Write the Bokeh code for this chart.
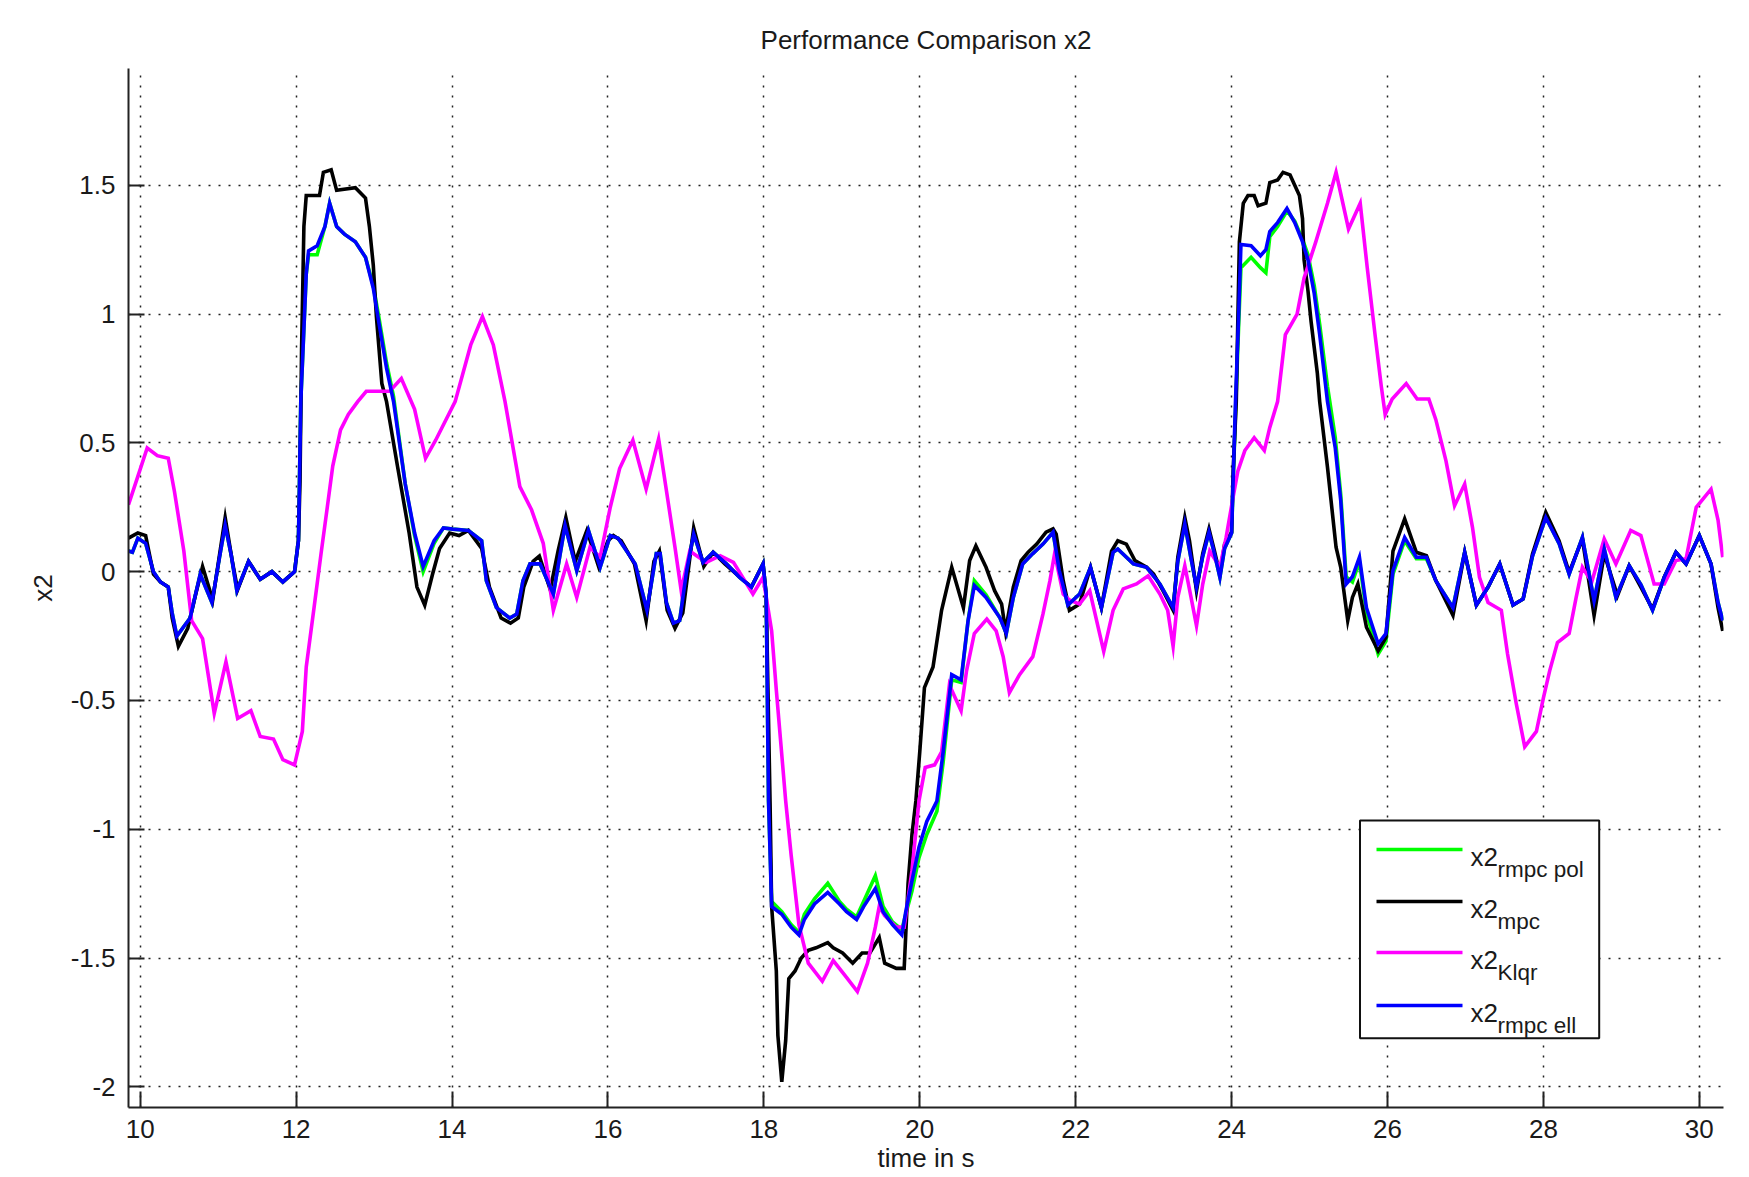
from bokeh.plotting import figure
from bokeh.models import Range1d, FixedTicker
from bokeh.embed import file_html
from bokeh.resources import INLINE
from bokeh.core.properties import value

# ---------------- data ----------------
t_mpc = [9.85, 9.97, 10.07, 10.17, 10.26, 10.36, 10.41, 10.49, 10.61, 10.71, 10.80, 10.93, 11.02, 11.09,
         11.18, 11.25, 11.39, 11.54, 11.69, 11.83, 11.98, 12.03, 12.05, 12.07, 12.10, 12.13, 12.30, 12.35,
         12.45, 12.52, 12.76, 12.89, 12.94, 12.99, 13.03, 13.10, 13.16, 13.30, 13.45, 13.55, 13.65, 13.75,
         13.84, 13.97, 14.09, 14.21, 14.38, 14.48, 14.63, 14.75, 14.85, 14.92, 15.04, 15.12, 15.26, 15.36,
         15.46, 15.58, 15.73, 15.88, 16.00, 16.07, 16.17, 16.34, 16.49, 16.59, 16.66, 16.76, 16.86, 16.96,
         17.10, 17.23, 17.35, 17.50, 17.69, 17.84, 17.99, 18.03, 18.08, 18.10, 18.16, 18.18, 18.23, 18.28,
         18.32, 18.40, 18.48, 18.57, 18.67, 18.82, 18.89, 19.01, 19.14, 19.26, 19.36, 19.48, 19.55, 19.70,
         19.80, 19.82, 19.85, 19.90, 19.95, 20.00, 20.06, 20.17, 20.28, 20.41, 20.56, 20.64, 20.72, 20.85,
         20.96, 21.05, 21.10, 21.20, 21.30, 21.39, 21.50, 21.62, 21.71, 21.75, 21.84, 21.92, 22.05, 22.19,
         22.33, 22.46, 22.54, 22.65, 22.76, 22.91, 23.00, 23.12, 23.25, 23.31, 23.40, 23.46, 23.55, 23.63,
         23.71, 23.78, 23.85, 23.91, 24.00, 24.02, 24.06, 24.07, 24.10, 24.15,
         24.21, 24.29, 24.34, 24.44, 24.49, 24.59, 24.66, 24.75, 24.81, 24.87, 24.91, 24.93, 24.98, 25.02,
         25.06, 25.10, 25.13, 25.23, 25.34, 25.40, 25.49, 25.55, 25.62, 25.73, 25.88, 25.98, 26.07, 26.22,
         26.37, 26.50, 26.62, 26.84, 26.99, 27.14, 27.29, 27.44, 27.61, 27.74, 27.86, 28.03, 28.20, 28.33,
         28.50, 28.65, 28.78, 28.95, 29.10, 29.25, 29.40, 29.55, 29.70, 29.83, 30.00, 30.15, 30.24, 30.30]
x2_mpc = [0.13, 0.15, 0.14, -0.01, -0.04, -0.06, -0.18, -0.29, -0.22, -0.09, 0.02, -0.11, 0.07, 0.21,
          0.043, -0.07, 0.04, -0.03, 0.00, -0.04, 0.00, 0.12, 0.35, 0.86, 1.34, 1.46, 1.46, 1.55,
          1.56, 1.48, 1.49, 1.45, 1.34, 1.19, 0.99, 0.73, 0.66, 0.41, 0.15, -0.06, -0.13, -0.01,
          0.09, 0.15, 0.14, 0.16, 0.09, -0.06, -0.18, -0.20, -0.18, -0.06, 0.04, 0.06, -0.07, 0.08,
          0.21, 0.04, 0.16, 0.02, 0.12, 0.14, 0.12, 0.03, -0.19, 0.04, 0.08, -0.15, -0.22, -0.16,
          0.17, 0.02, 0.075, 0.03, -0.02, -0.06, 0.03, -0.09, -0.90, -1.30, -1.55, -1.80, -1.98, -1.82,
          -1.58, -1.55, -1.50, -1.47, -1.46, -1.44, -1.46, -1.48, -1.52, -1.48, -1.48, -1.42, -1.52, -1.54,
          -1.54, -1.41, -1.21, -1.02, -0.89, -0.70, -0.45, -0.37, -0.15, 0.017, -0.14, 0.043, 0.10, 0.017,
          -0.074, -0.126, -0.23, -0.06, 0.043, 0.075, 0.107, 0.153, 0.166, 0.146, -0.035, -0.15, -0.126, 0.017,
          -0.14, 0.08, 0.12, 0.107, 0.043, 0.017, -0.01, -0.074, -0.15, 0.056, 0.21, 0.12, -0.074, 0.07,
          0.166, 0.08, -0.01, 0.107, 0.153, 0.39, 0.66, 0.82, 1.28, 1.43,
          1.46, 1.46, 1.42, 1.43, 1.51, 1.52, 1.55, 1.54, 1.50, 1.46, 1.37, 1.21, 1.09, 0.97,
          0.87, 0.77, 0.66, 0.405, 0.095, 0.017, -0.19, -0.10, -0.048, -0.216, -0.307, -0.255, 0.08, 0.205,
          0.075, 0.062, -0.035, -0.17, 0.075, -0.13, -0.06, 0.03, -0.13, -0.106, 0.069, 0.23, 0.12, -0.003,
          0.127, -0.17, 0.069, -0.093, 0.023, -0.06, -0.145, -0.022, 0.075, 0.03, 0.14, 0.03, -0.14, -0.23]

t_rmpc = [9.85, 9.90, 9.97, 10.07, 10.17, 10.26, 10.36, 10.41, 10.47, 10.64, 10.77, 10.92, 11.02,
          11.09, 11.17, 11.24, 11.39, 11.54, 11.69, 11.83, 11.98, 12.03, 12.06, 12.13, 12.16, 12.27, 12.37,
          12.43, 12.52, 12.62, 12.76, 12.89, 12.99, 13.06, 13.16, 13.25, 13.40, 13.52, 13.63, 13.77, 13.89,
          14.01, 14.21, 14.38, 14.44, 14.57, 14.74, 14.83, 14.91, 15.00, 15.13, 15.30, 15.45, 15.60, 15.75,
          15.90, 16.03, 16.13, 16.24, 16.35, 16.50, 16.62, 16.67, 16.75, 16.84, 16.92, 17.01, 17.10, 17.22,
          17.35, 17.52, 17.69, 17.84, 17.99, 18.03, 18.06, 18.10, 18.23, 18.35, 18.45, 18.52, 18.65, 18.82,
          18.97, 19.06, 19.19, 19.28, 19.43, 19.53, 19.65, 19.77, 19.82, 19.90, 19.99, 20.09, 20.22, 20.30,
          20.41, 20.53, 20.62, 20.70, 20.85, 21.03, 21.11, 21.20, 21.32, 21.45, 21.58, 21.71, 21.79, 21.90,
          22.05, 22.19, 22.33, 22.48, 22.54, 22.74, 22.91, 23.08, 23.25, 23.31, 23.40, 23.48, 23.55, 23.63,
          23.71, 23.78, 23.85, 23.91, 24.00, 24.05, 24.09, 24.12, 24.25, 24.37, 24.44,
          24.49, 24.59, 24.71, 24.81, 24.91, 24.98, 25.06, 25.13, 25.23, 25.33, 25.40, 25.47, 25.55, 25.64,
          25.73, 25.88, 25.98, 26.07, 26.22, 26.37, 26.50, 26.62, 26.84, 26.99, 27.14, 27.29, 27.44, 27.61,
          27.74, 27.86, 28.03, 28.20, 28.33, 28.50, 28.65, 28.78, 28.93, 29.10, 29.25, 29.40, 29.55, 29.70,
          29.83, 30.00, 30.15, 30.24, 30.30]
x2_rmpc_ell = [0.08, 0.075, 0.13, 0.11, 0.00, -0.04, -0.06, -0.16, -0.25, -0.18, -0.01, -0.12, 0.06,
               0.18, 0.06, -0.074, 0.04, -0.03, 0.00, -0.04, 0.00, 0.12, 0.66, 1.155, 1.245, 1.265, 1.34,
               1.43, 1.34, 1.31, 1.28, 1.22, 1.10, 0.97, 0.79, 0.66, 0.34, 0.15, 0.02, 0.12, 0.17,
               0.165, 0.16, 0.12, -0.035, -0.14, -0.18, -0.165, -0.035, 0.03, 0.03, -0.087, 0.18, 0.004, 0.16,
               0.017, 0.14, 0.13, 0.08, 0.03, -0.15, 0.07, 0.07, -0.12, -0.20, -0.19, 0.004, 0.146, 0.036,
               0.075, 0.03, -0.022, -0.06, 0.03, -0.09, -0.89, -1.30, -1.33, -1.38, -1.41, -1.35, -1.29, -1.245,
               -1.29, -1.32, -1.35, -1.30, -1.23, -1.32, -1.37, -1.41, -1.32, -1.20, -1.07, -0.97, -0.89, -0.70,
               -0.40, -0.42, -0.19, -0.054, -0.10, -0.18, -0.24, -0.10, 0.03, 0.07, 0.107, 0.153, 0.004, -0.13,
               -0.087, 0.017, -0.14, 0.075, 0.088, 0.03, 0.017, -0.048, -0.14, 0.04, 0.185, 0.05, -0.06, 0.06,
               0.153, 0.07, -0.022, 0.09, 0.15, 0.66, 0.99, 1.27, 1.265, 1.226, 1.25,
               1.32, 1.355, 1.41, 1.355, 1.28, 1.21, 1.08, 0.92, 0.66, 0.48, 0.276, -0.048, -0.02, 0.056,
               -0.14, -0.28, -0.24, 0.004, 0.133, 0.056, 0.056, -0.035, -0.14, 0.075, -0.13, -0.06, 0.03, -0.13,
               -0.106, 0.06, 0.21, 0.11, -0.01, 0.133, -0.113, 0.088, -0.10, 0.023, -0.05, -0.15, -0.022, 0.075,
               0.03, 0.14, 0.03, -0.12, -0.19]
x2_rmpc_pol = [0.08, 0.075, 0.13, 0.11, 0.00, -0.04, -0.06, -0.16, -0.25, -0.18, -0.01, -0.12, 0.06,
               0.18, 0.06, -0.074, 0.04, -0.03, 0.00, -0.04, 0.00, 0.12, 0.66, 1.155, 1.23, 1.23, 1.34,
               1.43, 1.34, 1.31, 1.28, 1.22, 1.11, 0.99, 0.81, 0.68, 0.34, 0.14, 0.00, 0.11, 0.17,
               0.165, 0.16, 0.12, -0.035, -0.14, -0.18, -0.165, -0.035, 0.03, 0.03, -0.087, 0.18, 0.004, 0.16,
               0.017, 0.14, 0.13, 0.08, 0.03, -0.15, 0.07, 0.07, -0.12, -0.20, -0.19, 0.004, 0.146, 0.036,
               0.075, 0.03, -0.022, -0.06, 0.03, -0.09, -0.89, -1.28, -1.32, -1.37, -1.40, -1.33, -1.27, -1.21,
               -1.28, -1.31, -1.34, -1.28, -1.18, -1.30, -1.36, -1.39, -1.33, -1.24, -1.11, -1.02, -0.93, -0.74,
               -0.42, -0.43, -0.19, -0.035, -0.09, -0.18, -0.24, -0.10, 0.03, 0.07, 0.107, 0.153, 0.004, -0.13,
               -0.087, 0.017, -0.14, 0.075, 0.088, 0.03, 0.017, -0.048, -0.14, 0.04, 0.185, 0.05, -0.06, 0.06,
               0.153, 0.07, -0.022, 0.09, 0.15, 0.62, 0.95, 1.18, 1.22, 1.18, 1.16,
               1.30, 1.34, 1.40, 1.36, 1.29, 1.23, 1.11, 0.96, 0.72, 0.52, 0.30, -0.02, -0.04, 0.04,
               -0.16, -0.32, -0.27, -0.01, 0.12, 0.05, 0.05, -0.035, -0.14, 0.075, -0.13, -0.06, 0.03, -0.13,
               -0.106, 0.06, 0.21, 0.11, -0.01, 0.133, -0.113, 0.088, -0.10, 0.023, -0.05, -0.15, -0.022, 0.075,
               0.03, 0.14, 0.03, -0.12, -0.19]

t_klqr = [9.85, 9.97, 10.09, 10.22, 10.36, 10.44, 10.56, 10.66, 10.80, 10.95, 11.10, 11.25, 11.42, 11.54,
          11.71, 11.83, 11.98, 12.08, 12.13, 12.23, 12.32, 12.40, 12.47, 12.57, 12.67, 12.79, 12.90, 13.10,
          13.20, 13.35, 13.52, 13.66, 13.79, 14.04, 14.24, 14.39, 14.53, 14.68, 14.87, 15.02, 15.17, 15.30,
          15.47, 15.60, 15.77, 15.90, 16.03, 16.15, 16.32, 16.49, 16.65, 16.75, 16.86, 16.94, 17.05, 17.26,
          17.44, 17.61, 17.86, 17.99, 18.10, 18.16, 18.28, 18.35, 18.45, 18.57, 18.75, 18.89, 19.06, 19.20,
          19.33, 19.43, 19.48, 19.55, 19.70, 19.80, 19.90, 19.99, 20.07, 20.19, 20.28, 20.38, 20.53, 20.60,
          20.70, 20.86, 20.98, 21.07, 21.15, 21.28, 21.45, 21.58, 21.67, 21.73, 21.84, 21.92, 22.05, 22.18,
          22.36, 22.48, 22.61, 22.78, 22.93, 23.08, 23.18, 23.25, 23.31, 23.40, 23.48, 23.55, 23.63, 23.72,
          23.85, 23.93, 24.02, 24.08, 24.17, 24.29, 24.42, 24.49, 24.59, 24.69, 24.84, 24.93, 25.08, 25.23,
          25.34, 25.50, 25.65, 25.74, 25.84, 25.92, 25.97, 26.06, 26.24, 26.38, 26.53, 26.62, 26.75, 26.86,
          26.99, 27.09, 27.18, 27.29, 27.46, 27.54, 27.65, 27.76, 27.91, 28.00, 28.08, 28.18, 28.33, 28.42,
          28.50, 28.62, 28.78, 28.93, 29.12, 29.25, 29.42, 29.55, 29.70, 29.83, 29.96, 30.15, 30.24, 30.30]
x2_klqr = [0.26, 0.37, 0.48, 0.45, 0.44, 0.31, 0.08, -0.19, -0.26, -0.55, -0.35, -0.57, -0.54, -0.64,
           -0.65, -0.73, -0.75, -0.62, -0.37, -0.14, 0.07, 0.25, 0.41, 0.55, 0.61, 0.66, 0.70, 0.70,
           0.70, 0.75, 0.63, 0.44, 0.51, 0.66, 0.88, 0.99, 0.88, 0.66, 0.33, 0.24, 0.11, -0.15,
           0.03, -0.10, 0.095, 0.056, 0.25, 0.40, 0.51, 0.32, 0.515, 0.315, 0.095, -0.074, 0.08, 0.036,
           0.062, 0.036, -0.087, -0.022, -0.23, -0.46, -0.89, -1.10, -1.37, -1.52, -1.59, -1.51, -1.575, -1.63,
           -1.52, -1.38, -1.30, -1.335, -1.38, -1.38, -1.16, -0.89, -0.76, -0.75, -0.70, -0.44, -0.54, -0.385,
           -0.24, -0.184, -0.23, -0.33, -0.47, -0.40, -0.33, -0.165, -0.035, 0.07, -0.087, -0.11, -0.126, -0.074,
           -0.31, -0.15, -0.067, -0.048, -0.016, -0.087, -0.15, -0.29, -0.10, 0.023, -0.10, -0.21, -0.048, 0.08,
           0.017, 0.133, 0.29, 0.39, 0.47, 0.52, 0.47, 0.56, 0.66, 0.92, 1.00, 1.14, 1.28, 1.43,
           1.55, 1.33, 1.43, 1.18, 0.92, 0.72, 0.61, 0.67, 0.73, 0.67, 0.67, 0.59, 0.43, 0.256,
           0.34, 0.172, -0.022, -0.12, -0.15, -0.32, -0.51, -0.68, -0.62, -0.49, -0.385, -0.275, -0.24, -0.10,
           0.017, -0.04, 0.127, 0.03, 0.16, 0.14, -0.048, -0.048, 0.043, 0.05, 0.25, 0.32, 0.20, 0.056]

x_ticks = [10, 12, 14, 16, 18, 20, 22, 24, 26, 28, 30]
y_ticks = [-2, -1.5, -1, -0.5, 0, 0.5, 1, 1.5]
y_tick_labels = ["-2", "-1.5", "-1", "-0.5", "0", "0.5", "1", "1.5"]

legend_names = ["rmpc pol", "mpc", "Klqr", "rmpc ell"]
colors = ["#00ff00", "#000000", "#ff00ff", "#0000ff"]

# ---------------- layout ----------------
FONT = "Liberation Sans"
TXT = "#1a1a1a"
W, H = 1749, 1177
BL, BR, BT, BB = 128, 26, 68, 70
XMIN, XMAX = 9.85, 30.31
YMIN, YMAX = -2.08, 1.953
FW, FH = W - BL - BR, H - BT - BB


def px2x(px):
    return XMIN + (px - BL) / FW * (XMAX - XMIN)


def py2y(py):
    return YMAX - (py - BT) / FH * (YMAX - YMIN)


p = figure(width=W, height=H, output_backend="svg", toolbar_location=None,
           x_range=Range1d(XMIN, XMAX), y_range=Range1d(YMIN, YMAX),
           min_border_left=BL, min_border_right=BR, min_border_top=BT, min_border_bottom=BB,
           title="Performance Comparison x2")
p.outline_line_color = None
p.background_fill_color = "white"
p.border_fill_color = "white"

p.title.align = "center"
p.title.text_font = FONT
p.title.text_font_size = "26px"
p.title.text_font_style = "normal"
p.title.text_color = TXT
p.title.standoff = 28

for ax in (p.xaxis[0], p.yaxis[0]):
    ax.axis_line_width = 2
    ax.axis_line_color = "#222222"
    ax.major_tick_line_width = 2
    ax.major_tick_line_color = "#222222"
    ax.major_tick_in = 16
    ax.major_tick_out = 0
    ax.minor_tick_line_color = None
    ax.major_label_text_font = FONT
    ax.major_label_text_font_size = "26px"
    ax.major_label_text_color = TXT
    ax.axis_label_text_font = FONT
    ax.axis_label_text_font_size = "26px"
    ax.axis_label_text_font_style = "normal"
    ax.axis_label_text_color = TXT

p.xaxis.ticker = FixedTicker(ticks=x_ticks)
p.xaxis.major_label_standoff = 12
p.xaxis.axis_label = "time in s"
p.xaxis.axis_label_standoff = 2
p.yaxis.ticker = FixedTicker(ticks=y_ticks)
p.yaxis.major_label_overrides = {v: s for v, s in zip(y_ticks, y_tick_labels)}
p.yaxis.major_label_standoff = 13
p.yaxis.axis_label = "x2"
p.yaxis.axis_label_standoff = 10

for g in (p.xgrid[0], p.ygrid[0]):
    g.grid_line_color = "#222222"
    g.grid_line_width = 1.5
    g.grid_line_dash = "2 8"

series = [(t_rmpc, x2_rmpc_pol), (t_mpc, x2_mpc), (t_klqr, x2_klqr), (t_rmpc, x2_rmpc_ell)]
for (tt, yy), c in zip(series, colors):
    p.line(tt, yy, line_color=c, line_width=3.6, line_join="miter")

# ---------------- legend (drawn by hand for the subscripts) ----------------
box_l, box_r, box_t, box_b = 1359.5, 1598.7, 820, 1037.7
p.quad(left=[px2x(box_l)], right=[px2x(box_r)], top=[py2y(box_t)], bottom=[py2y(box_b)],
       fill_color="white", line_color="#111111", line_width=2)
row_y = [849, 901, 952, 1005]
for ry, name, c in zip(row_y, legend_names, colors):
    p.line([px2x(1376), px2x(1462)], [py2y(ry), py2y(ry)], line_color=c, line_width=3.6)
    p.text(x=[px2x(1470)], y=[py2y(ry + 7)], text=["x2"], text_font=value(FONT),
           text_font_size="26px", text_color=TXT, text_baseline="alphabetic", text_align="left")
    p.text(x=[px2x(1497)], y=[py2y(ry + 20)], text=[name], text_font=value(FONT),
           text_font_size="22.5px", text_color=TXT, text_baseline="alphabetic", text_align="left")

open("out.html", "w").write(file_html(p, INLINE))
